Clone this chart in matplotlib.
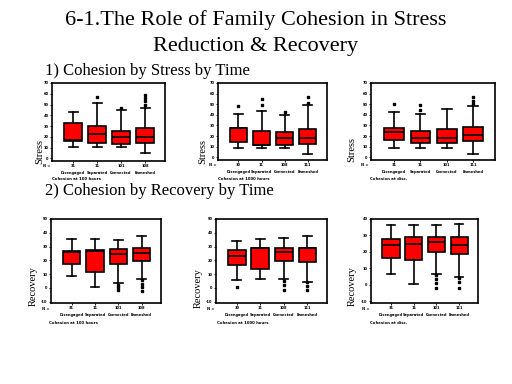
import matplotlib.pyplot as plt

groups = ["Disengaged", "Separated", "Connected", "Enmeshed"]

# stress panels: (whislo, q1, med, q3, whishi, fliers)
stress_100 = [
    (10.9, 16.4, 16.6, 32.7, 42.7, []),
    (10.9, 14.5, 22.7, 30.0, 51.0, [57]),
    (10.9, 13.3, 20.0, 25.5, 44.8, [47]),
    (4.5, 14.5, 20.0, 28.0, 47.0, [50, 53, 56, 59]),
]
stress_1000 = [
    (9.0, 14.4, 27.8, 27.9, 40.5, [48.6]),
    (9.0, 11.7, 11.8, 25.2, 43.8, [49, 54.6]),
    (9.0, 11.7, 18.0, 23.4, 40.2, [42.6]),
    (3.0, 12.6, 18.0, 27.0, 49.5, [51.6, 56.7]),
]
stress_dis = [
    (9.0, 16.1, 23.4, 27.9, 42.7, [50]),
    (9.0, 13.4, 18.0, 25.0, 41.2, [45, 49]),
    (9.0, 13.4, 18.5, 26.7, 45.7, []),
    (2.7, 15.0, 20.9, 28.5, 48.8, [50, 53, 57]),
]
rec_100 = [
    (8.7, 17.3, 26.3, 26.4, 35.8, []),
    (0.7, 11.3, 27.1, 27.2, 35.8, []),
    (3.6, 17.3, 24.5, 28.1, 34.4, [2.4, 0.4, -1.7]),
    (6.5, 19.2, 25.2, 28.8, 37.3, [5.5, 3.0, 0.5, -2.4]),
]
rec_1000 = [
    (5.8, 16.6, 23.1, 27.4, 33.9, [0.5]),
    (6.5, 13.5, 28.7, 28.8, 35.8, []),
    (6.5, 19.5, 26.0, 28.8, 36.5, [5.3, 2.0, -1.7]),
    (4.6, 18.8, 28.7, 28.8, 37.7, [4.0, 1.0, -1.7]),
]
rec_dis = [
    (6.5, 16.6, 24.0, 27.6, 36.3, []),
    (0.4, 15.4, 24.6, 29.0, 36.3, []),
    (6.7, 20.0, 26.0, 29.0, 36.3, [6.0, 3.5, 1.0, -2.0]),
    (4.7, 19.0, 24.0, 29.0, 37.0, [4.0, 1.5, -2.0]),
]
counts_100 = ["31", "11", "101", "108"]
counts_1000 = ["30", "11", "108", "111"]
counts_dis = ["31", "11", "101", "111"]

W, H = 512, 384

# data, counts, y label, x label, axes rect (px: left, top, right, bottom), ylim, yticks,
# y label pos (px), x label pos (px)
panels = [
    (stress_100, counts_100, "Stress", "Cohesion at 100 hours", (52, 83, 165, 161), (-2.5, 70), range(0, 71, 10), (40, 151), (52, 179)),
    (stress_1000, counts_1000, "Stress", "Cohesion at 1000 hours", (218, 83, 327, 160), (-2.5, 70), range(0, 71, 10), (203, 151), (218, 179)),
    (stress_dis, counts_dis, "Stress", "Cohesion at disc.", (371, 83, 495, 160), (-2.5, 70), range(0, 71, 10), (352, 150), (370, 179)),
    (rec_100, counts_100, "Recovery", "Cohesion at 100 hours", (51, 219, 161, 303), (-11, 50), range(-10, 51, 10), (33, 286), (49, 323)),
    (rec_1000, counts_1000, "Recovery", "Cohesion at 1000 hours", (216, 219, 327, 303), (-11, 50), range(-10, 51, 10), (198, 288), (217, 323)),
    (rec_dis, counts_dis, "Recovery", "Cohesion at disc.", (371, 219, 478, 303), (-11, 40), range(-10, 41, 10), (352, 286), (370, 323)),
]

fig = plt.figure(figsize=(5.12, 3.84), dpi=100)
fig.patch.set_facecolor("white")
serif = "Liberation Serif"

fig.text(0.5, 1 - 20 / H, "6-1.The Role of Family Cohesion in Stress", ha="center", va="center",
         fontsize=16, family=serif)
fig.text(0.5, 1 - 47 / H, "Reduction & Recovery", ha="center", va="center", fontsize=16, family=serif)
fig.text(45 / W, 1 - 71 / H, "1) Cohesion by Stress by Time", ha="left", va="center", fontsize=12, family=serif)
fig.text(45 / W, 1 - 191 / H, "2) Cohesion by Recovery by Time", ha="left", va="center", fontsize=12, family=serif)

for data, counts, ylab, xlab, px, ylim, yt, ypos, xpos in panels:
    l, t, r, b = px
    ax = fig.add_axes((l / W, 1 - b / H, (r - l) / W, (b - t) / H))
    stats = []
    for lo, q1, med, q3, hi, fl in data:
        stats.append(dict(whislo=lo, q1=q1, med=med, q3=q3, whishi=hi, fliers=fl))
    ax.bxp(stats, positions=[1, 2, 3, 4], widths=0.75, patch_artist=True,
           boxprops=dict(facecolor="#ff0000", edgecolor="black", linewidth=1.2),
           medianprops=dict(color="black", linewidth=1.2),
           whiskerprops=dict(color="black", linewidth=1.2),
           capprops=dict(color="black", linewidth=1.2),
           flierprops=dict(marker="s", markersize=1.8, markerfacecolor="black", markeredgecolor="black"))
    ax.set_xlim(0.12, 4.83)
    ax.set_ylim(*ylim)
    ax.set_yticks(list(yt))
    ax.set_yticklabels([str(v) for v in yt], fontsize=2.6, fontweight="bold")
    ax.set_xticks([1, 2, 3, 4])
    ax.set_xticklabels([c + "\n" + g for c, g in zip(counts, groups)], fontsize=2.6, fontweight="bold",
                       linespacing=1.8)
    ax.tick_params(length=1.5, width=0.6, pad=1)
    for s in ax.spines.values():
        s.set_linewidth(1.2)
    ax.text(-0.05, -0.07, "N =", transform=ax.transAxes, fontsize=2.6, fontweight="bold", ha="center", va="center")
    fig.text(xpos[0] / W, 1 - xpos[1] / H, xlab, fontsize=2.8, fontweight="bold", ha="left", va="center")
    fig.text(ypos[0] / W, 1 - ypos[1] / H, ylab, rotation=90, ha="center", va="center",
             fontsize=7.5, family=serif)

fig.savefig("out.png", dpi=100, facecolor="white")
